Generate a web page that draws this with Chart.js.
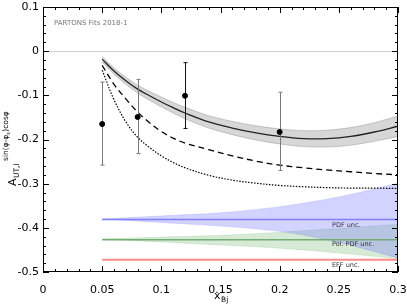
<!DOCTYPE html>
<html>
<head>
<meta charset="utf-8">
<script src="https://cdn.jsdelivr.net/npm/chart.js@4"></script>
<style>
  html, body { margin: 0; padding: 0; background: #fff; }
  #wrap { width: 407px; height: 305px; }
</style>
</head>
<body>
<div id="wrap"><canvas id="asym"></canvas></div>
<script>
// model curves, sampled in x_Bj
const xs = [0.05, 0.06, 0.07, 0.08, 0.09, 0.10, 0.11, 0.12, 0.14, 0.16, 0.18, 0.20, 0.22, 0.24, 0.26, 0.28, 0.30];
const fitMid = [-0.018, -0.045, -0.067, -0.086, -0.101, -0.115, -0.128, -0.140, -0.160, -0.174, -0.185, -0.193, -0.198, -0.198, -0.193, -0.183, -0.170];
const fitHi = [-0.012, -0.038, -0.059, -0.077, -0.091, -0.104, -0.116, -0.127, -0.146, -0.159, -0.169, -0.176, -0.180, -0.179, -0.173, -0.162, -0.147];
const fitLo = [-0.024, -0.052, -0.075, -0.095, -0.111, -0.126, -0.140, -0.153, -0.174, -0.189, -0.201, -0.210, -0.216, -0.217, -0.213, -0.204, -0.193];
const dashed = [-0.032, -0.075, -0.108, -0.138, -0.162, -0.182, -0.197, -0.208, -0.223, -0.237, -0.249, -0.258, -0.264, -0.269, -0.273, -0.277, -0.280];
const dotted = [-0.043, -0.110, -0.160, -0.195, -0.218, -0.237, -0.252, -0.264, -0.281, -0.292, -0.299, -0.304, -0.307, -0.309, -0.310, -0.310, -0.311];

// uncertainty bands
const bx = [0.05, 0.10, 0.15, 0.20, 0.25, 0.30];
const pdfMid = [-0.381, -0.381, -0.381, -0.381, -0.381, -0.381];
const pdfHi = [-0.380, -0.373, -0.366, -0.352, -0.330, -0.299];
const pdfLo = [-0.380, -0.388, -0.396, -0.408, -0.433, -0.468];
const polMid = [-0.427, -0.427, -0.427, -0.427, -0.427, -0.427];
const polHi = [-0.425, -0.421, -0.417, -0.410, -0.401, -0.392];
const polLo = [-0.425, -0.432, -0.439, -0.446, -0.457, -0.470];
const effMid = [-0.472, -0.472, -0.472, -0.472, -0.472, -0.472];

// data points
const dataX = [0.05, 0.08, 0.12, 0.20];
const dataY = [-0.165, -0.149, -0.101, -0.183];
const errHi = [-0.070, -0.064, -0.026, -0.093];
const errLo = [-0.258, -0.232, -0.175, -0.270];
const errColor = ["#7a7a7a", "#7a7a7a", "#111111", "#7a7a7a"];

const bandLabels = ["PDF unc.", "Pol. PDF unc.", "EFF unc."];
const bandLabelY = [-0.395, -0.437, -0.485];

function pts(x, y) {
    return x.map((v, i) => ({x: v, y: y[i]}));
}

function line(data, color, width, dash, order) {
    return {
        data: data,
        borderColor: color,
        borderWidth: width,
        borderDash: dash || [],
        pointRadius: 0,
        fill: false,
        tension: 0.35,
        order: order
    };
}

function band(data, fillColor, edge, order) {
    return {
        data: data,
        borderColor: edge,
        borderWidth: 0.8,
        backgroundColor: fillColor,
        pointRadius: 0,
        fill: "+1",
        tension: 0.3,
        order: order
    };
}

const frame = {
    id: "frame",
    beforeDatasetDraw(chart, args) {
        if (args.index !== 12) return;
        const ctx = chart.ctx;
        const x = chart.scales.x, y = chart.scales.y;
        ctx.save();
        ctx.lineWidth = 1;
        dataX.forEach((v, i) => {
            const px = Math.round(x.getPixelForValue(v)) + 0.5;
            const top = y.getPixelForValue(errHi[i]);
            const bot = y.getPixelForValue(errLo[i]);
            ctx.strokeStyle = errColor[i];
            ctx.beginPath();
            ctx.moveTo(px, top); ctx.lineTo(px, bot);
            ctx.moveTo(px - 2, top); ctx.lineTo(px + 2, top);
            ctx.moveTo(px - 2, bot); ctx.lineTo(px + 2, bot);
            ctx.stroke();
        });
        ctx.restore();
    },
    afterDraw(chart) {
        const ctx = chart.ctx;
        const a = chart.chartArea;
        const x = chart.scales.x, y = chart.scales.y;
        ctx.save();
        ctx.strokeStyle = "#000";
        ctx.lineWidth = 1;
        ctx.strokeRect(a.left + 0.5, a.top + 0.5, a.right - a.left - 1, a.bottom - a.top - 1);

        // inward ticks on all four sides
        ctx.beginPath();
        for (let k = 0; k <= 30; k++) {
            const px = Math.round(x.getPixelForValue(k / 100)) + 0.5;
            const len = k % 5 === 0 ? 6 : 3;
            ctx.moveTo(px, a.bottom); ctx.lineTo(px, a.bottom - len);
            ctx.moveTo(px, a.top); ctx.lineTo(px, a.top + len);
        }
        for (let k = -25; k <= 5; k++) {
            const py = Math.round(y.getPixelForValue(k / 50)) + 0.5;
            const len = k % 5 === 0 ? 6 : 3;
            ctx.moveTo(a.left, py); ctx.lineTo(a.left + len, py);
            ctx.moveTo(a.right, py); ctx.lineTo(a.right - len, py);
        }
        ctx.stroke();

        ctx.fillStyle = "#777";
        ctx.font = "7px 'DejaVu Sans'";
        ctx.textBaseline = "middle";
        ctx.fillText("PARTONS Fits 2018-1", 54, 23);

        ctx.fillStyle = "#333";
        ctx.font = "6.5px 'DejaVu Sans'";
        bandLabels.forEach((t, i) => {
            ctx.fillText(t, 332, y.getPixelForValue(bandLabelY[i]));
        });

        // x axis title
        ctx.fillStyle = "#000";
        ctx.font = "11px 'DejaVu Sans'";
        ctx.textBaseline = "alphabetic";
        ctx.fillText("x", 214, 299);
        ctx.font = "7.5px 'DejaVu Sans'";
        ctx.fillText("Bj", 221, 302);

        // y axis title, rotated
        ctx.translate(16, 186);
        ctx.rotate(-Math.PI / 2);
        ctx.font = "11px 'DejaVu Sans'";
        ctx.fillText("A", 0, 0);
        ctx.font = "7.5px 'DejaVu Sans'";
        ctx.fillText("UT,l", 8, 3);
        ctx.fillText("sin(\u03c6-\u03c6", 25, -8);
        const w = ctx.measureText("sin(\u03c6-\u03c6").width;
        ctx.font = "5px 'DejaVu Sans'";
        ctx.fillText("s", 25 + w, -6);
        ctx.font = "7.5px 'DejaVu Sans'";
        ctx.fillText(")cos\u03c6", 25 + w + 3, -8);
        ctx.restore();
    }
};

const ctx = document.getElementById("asym");
const chart = new Chart(ctx, {
    type: "line",
    data: {
        datasets: [
            band(pts(xs, fitHi), "rgba(140,140,140,0.35)", "rgba(130,130,130,0.5)", 9),
            band(pts(xs, fitLo), "transparent", "rgba(130,130,130,0.5)", 9),
            line(pts(xs, fitMid), "#222", 1.3, null, 2),
            line(pts(xs, dashed), "#000", 1.3, [6, 4], 3),
            line(pts(xs, dotted), "#000", 1.2, [1.5, 1.5], 3),
            band(pts(bx, pdfHi), "rgba(110,110,255,0.3)", "rgba(110,110,255,0.25)", 8),
            band(pts(bx, pdfLo), "transparent", "rgba(110,110,255,0.25)", 8),
            line(pts(bx, pdfMid), "#7f7fff", 1.6, null, 5),
            band(pts(bx, polHi), "rgba(90,170,90,0.25)", "rgba(90,170,90,0.2)", 10),
            band(pts(bx, polLo), "transparent", "rgba(90,170,90,0.2)", 10),
            line(pts(bx, polMid), "#74ad74", 1.6, null, 5),
            line(pts(bx, effMid), "#ff8a8a", 2, null, 5),
            {
                type: "scatter",
                data: pts(dataX, dataY),
                backgroundColor: "#000",
                borderColor: "#000",
                pointRadius: 2.5,
                order: 0
            }
        ]
    },
    options: {
        responsive: true,
        maintainAspectRatio: false,
        animation: false,
        layout: {padding: {top: 7, right: 9, left: 0, bottom: 0}},
        plugins: {legend: {display: false}, tooltip: {enabled: false}},
        scales: {
            x: {
                type: "linear",
                min: 0,
                max: 0.3,
                afterFit: s => { s.height = 33; s.paddingLeft = 0; s.paddingRight = 0; },
                border: {display: false},
                grid: {display: false},
                ticks: {
                    stepSize: 0.05,
                    padding: 4,
                    color: "#000",
                    maxRotation: 0,
                    font: {family: "DejaVu Sans", size: 11},
                    callback: v => parseFloat(v.toFixed(2)).toString()
                }
            },
            y: {
                min: -0.5,
                max: 0.1,
                afterFit: s => { s.width = 43; s.paddingTop = 0; s.paddingBottom = 0; },
                border: {display: false},
                grid: {
                    drawTicks: false,
                    color: c => (Math.abs(c.tick.value) < 1e-9 ? "#cfcfcf" : "transparent")
                },
                ticks: {
                    stepSize: 0.1,
                    padding: 4,
                    color: "#000",
                    font: {family: "DejaVu Sans", size: 11},
                    callback: v => (Math.round(v * 10) / 10).toString()
                }
            }
        }
    },
    plugins: [frame]
});
</script>
</body>
</html>
